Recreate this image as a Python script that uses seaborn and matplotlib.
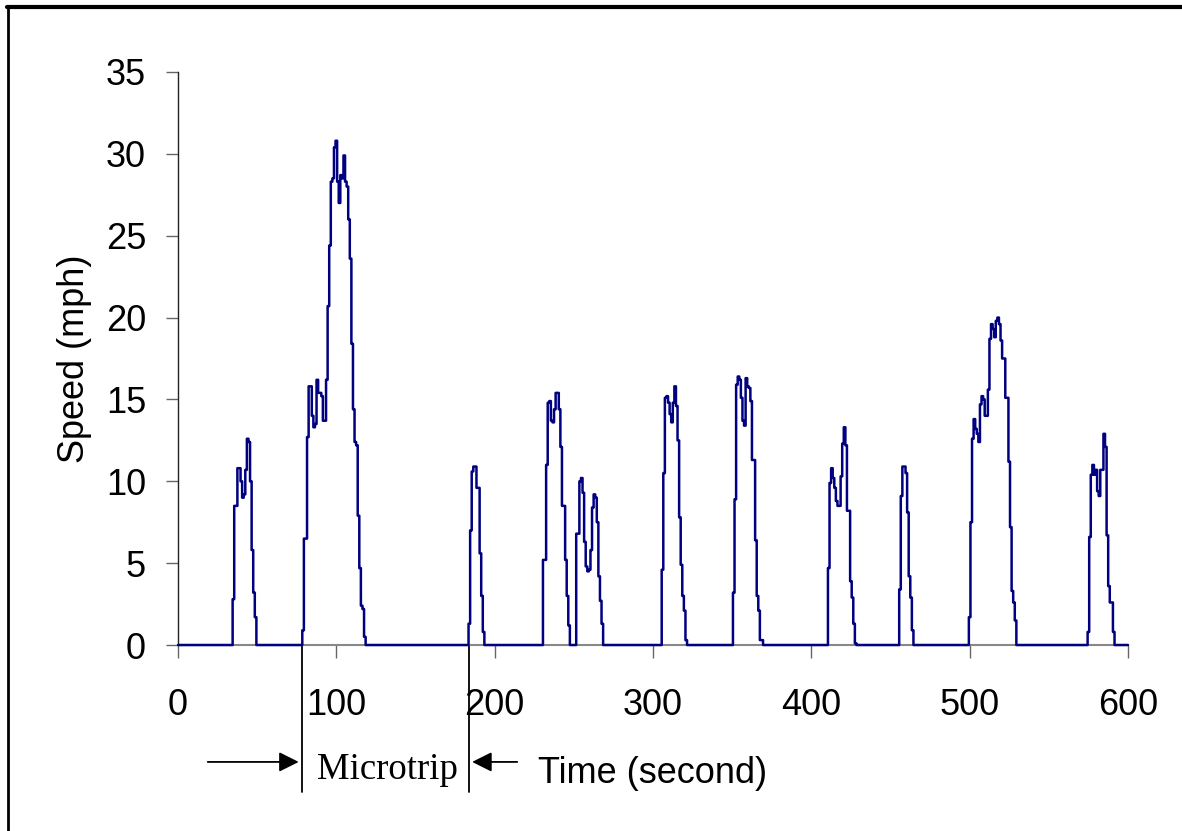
import numpy as np
import pandas as pd
import matplotlib
matplotlib.use('Agg')
import matplotlib.pyplot as plt
import seaborn as sns

# Speed trace (mph, 1 Hz): each microtrip is a start second plus its speeds,
# the vehicle is stopped (0 mph) everywhere else between 0 and 600 s
duration = 600
trip_starts = [35, 79, 184, 231, 252, 306, 351, 411, 456, 500, 575]
trip1 = [2.8, 8.5, 8.5, 10.8, 10.8, 10.0, 9.0, 9.2, 10.7, 12.6, 12.4, 10.0, 5.8, 3.2, 1.7]
trip2 = [0.9, 6.5, 6.5, 12.7, 15.8, 15.8, 14.0, 13.3, 13.5, 16.2, 15.4, 15.4, 15.2, 13.7, 13.7,
         16.2, 20.7, 24.4, 28.3, 28.5, 30.4, 30.8, 28.3, 27.0, 28.7, 28.5, 29.9, 28.3, 28.0, 26.0,
         23.6, 18.4, 14.4, 12.4, 12.2, 7.9, 4.7, 2.4, 2.2, 0.5]
trip3 = [1.3, 7.0, 10.6, 10.9, 10.9, 9.6, 9.6, 5.6, 3.0, 0.8]
trip4 = [5.2, 5.2, 11.0, 14.8, 14.9, 13.7, 13.6, 14.4, 15.4, 15.4, 14.4, 12.1, 8.5, 8.5, 5.2, 3.0, 1.2]
trip5 = [6.8, 6.8, 10.0, 10.2, 9.3, 6.3, 4.8, 4.5, 4.6, 5.8, 8.4, 9.2, 9.0, 7.5, 4.2, 2.7, 1.3]
trip6 = [4.6, 10.5, 15.1, 15.2, 14.8, 14.1, 13.6, 14.8, 15.8, 14.6, 12.5, 7.8, 4.9, 3.0, 2.1, 0.3]
trip7 = [3.2, 8.9, 15.9, 16.4, 16.2, 15.1, 13.7, 13.4, 16.3, 15.8, 15.7, 14.9, 11.3, 11.3, 6.4,
         3.0, 2.1, 0.3, 0.3]
trip8 = [4.7, 9.9, 10.8, 10.2, 9.6, 8.8, 8.5, 8.5, 10.3, 12.3, 13.3, 12.2, 8.2, 8.2, 3.9, 2.9, 1.3, 0.1]
trip9 = [3.4, 9.1, 10.9, 10.9, 10.5, 8.1, 4.2, 2.9, 0.9]
trip10 = [1.7, 7.5, 12.6, 13.8, 13.2, 12.9, 12.4, 14.7, 15.2, 15.0, 14.0, 14.0, 15.6, 18.7, 19.6,
          19.3, 18.8, 19.8, 20.0, 19.6, 18.6, 17.5, 17.5, 15.1, 15.1, 11.2, 7.2, 3.3, 2.6, 1.5]
trip11 = [0.8, 6.6, 10.4, 11.0, 10.4, 10.7, 9.4, 9.1, 10.7, 10.7, 12.9, 12.1, 6.7, 3.6, 2.6, 2.6, 0.8]
trips = [trip1, trip2, trip3, trip4, trip5, trip6, trip7, trip8, trip9, trip10, trip11]

x_ticks = [0, 100, 200, 300, 400, 500, 600]
y_ticks = [0, 5, 10, 15, 20, 25, 30, 35]
microtrip_bounds = [78, 184]  # start of the 2nd and 3rd microtrip, marked under the axis

# put the trips into the full time series
time = np.arange(duration + 1)
speed = np.zeros(duration + 1)
for start, trip in zip(trip_starts, trips):
    speed[start:start + len(trip)] = trip
df = pd.DataFrame({'Time': time, 'Speed': speed})

sns.set_style('white')
plt.rcParams['font.family'] = ['Liberation Sans', 'DejaVu Sans']
plt.rcParams['text.color'] = 'black'
plt.rcParams['axes.labelcolor'] = 'black'

fig = plt.figure(figsize=(11.82, 8.31), dpi=100)
ax = fig.add_axes([0.1506, 0.2238, 0.8037, 0.6896])
sns.lineplot(data=df, x='Time', y='Speed', color='#000080', linewidth=1.8,
             drawstyle='steps-mid', ax=ax)
ax.lines[0].set_clip_on(False)
ax.lines[0].set_zorder(3)

ax.set_xlim(0, 600)
ax.set_ylim(0, 35)
ax.set_xticks(x_ticks)
ax.set_yticks(y_ticks)
ax.tick_params(axis='both', direction='out', length=9, width=1, color='#666666',
               labelsize=26, labelcolor='black', bottom=True, left=True)
ax.tick_params(axis='y', pad=14)
ax.tick_params(axis='x', pad=22)
sns.despine(ax=ax)
ax.spines['left'].set_color('#222222')
ax.spines['bottom'].set_color('#888888')
ax.spines['left'].set_linewidth(1)
ax.spines['bottom'].set_linewidth(1.5)

ax.set_ylabel('Speed (mph)', fontsize=26, labelpad=10)
ax.set_xlabel('Time (second)', fontsize=26, labelpad=24)

# microtrip marker below the axis
trans = ax.get_xaxis_transform()
for b in microtrip_bounds:
    ax.plot([b, b], [0, -0.2565], transform=trans, color='black', lw=1.3, clip_on=False)
ax.annotate('', xy=(microtrip_bounds[0], -0.204), xytext=(17, -0.204),
            xycoords=trans, textcoords=trans,
            arrowprops=dict(arrowstyle='-|>', color='black', lw=1.3, mutation_scale=30))
ax.annotate('', xy=(microtrip_bounds[1], -0.204), xytext=(216, -0.204),
            xycoords=trans, textcoords=trans,
            arrowprops=dict(arrowstyle='-|>', color='black', lw=1.3, mutation_scale=30))
ax.text(sum(microtrip_bounds) / 2 + 1, -0.218, 'Microtrip', transform=trans, ha='center', va='center',
        fontsize=26.5, color='black', family=['Liberation Serif', 'DejaVu Serif'])

# frame lines at the top and left of the picture
fig.add_artist(plt.Line2D([0.006, 1.0], [0.9915, 0.9915], color='black', lw=3))
fig.add_artist(plt.Line2D([0.0068, 0.0068], [0.0, 0.992], color='black', lw=2))

fig.savefig('out.png', dpi=100)
